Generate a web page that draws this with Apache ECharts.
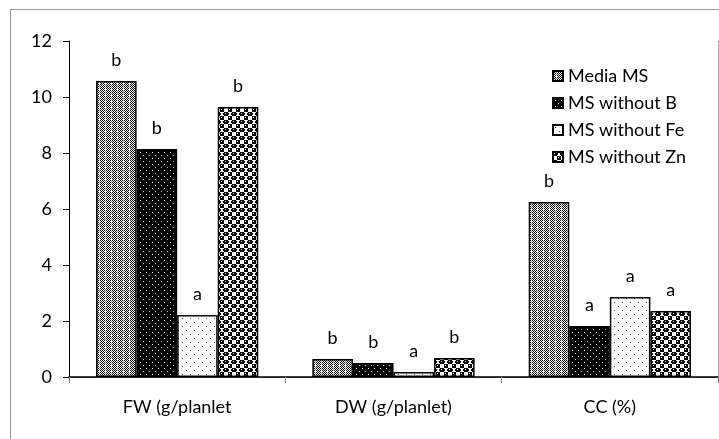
<!DOCTYPE html>
<html>
<head>
<meta charset="utf-8">
<script src="https://cdn.jsdelivr.net/npm/echarts@6/dist/echarts.min.js"></script>
<style>html,body{margin:0;padding:0;background:#fff}#c{width:719px;height:439px}</style>
</head>
<body>
<div id="c"></div>
<script>
const categories = ['FW (g/planlet', 'DW (g/planlet)', 'CC (%)'];
const seriesNames = ['Media MS', 'MS without B', 'MS without Fe', 'MS without Zn'];
const mediaMS = [10.57, 0.64, 6.25];
const msNoB = [8.14, 0.50, 1.82];
const msNoFe = [2.21, 0.18, 2.86];
const msNoZn = [9.64, 0.68, 2.36];
const lettersMedia = ['b', 'b', 'b'];
const lettersB = ['b', 'b', 'a'];
const lettersFe = ['a', 'a', 'a'];
const lettersZn = ['b', 'b', 'a'];
const yTicks = [0, 2, 4, 6, 8, 10, 12];

function mk(w, h, draw) {
  const c = document.createElement('canvas');
  c.width = w; c.height = h;
  const g = c.getContext('2d');
  draw(g);
  return c;
}
// Media MS: fine gray checker with white dotted stripes
const patMedia = mk(6, 6, g => {
  g.fillStyle = '#fff'; g.fillRect(0, 0, 6, 6);
  g.fillStyle = '#000';
  for (let y = 0; y < 6; y++) for (let x = 0; x < 6; x++) {
    if ((x + y) % 2 === 0 && x !== 3) g.fillRect(x, y, 1, 1);
  }
  g.fillStyle = '#888'; g.fillRect(3, 1, 1, 1); g.fillRect(3, 3, 1, 1);
});
// MS without B: black with white dots
const patB = mk(6, 6, g => {
  g.fillStyle = '#000'; g.fillRect(0, 0, 6, 6);
  g.fillStyle = '#fff'; g.fillRect(2, 2, 1, 1);
  g.fillStyle = '#ccc'; g.fillRect(5, 5, 1, 1);
});
// MS without Fe: white with black dots
const patFe = mk(8, 8, g => {
  g.fillStyle = '#fff'; g.fillRect(0, 0, 8, 8);
  g.fillStyle = '#000'; g.fillRect(2, 2, 1, 1);
  g.fillStyle = '#444'; g.fillRect(6, 6, 1, 1);
});
// MS without Zn: checker of black rounded cells with white highlights
const patZn = mk(8, 8, g => {
  g.fillStyle = '#fff'; g.fillRect(0, 0, 8, 8);
  g.fillStyle = '#000';
  g.fillRect(0, 0, 4, 4); g.fillRect(4, 4, 4, 4);
  g.fillRect(4, 1, 1, 2); g.fillRect(7, 1, 1, 2);
  g.fillStyle = '#fff';
  g.fillRect(1, 1, 1, 1); g.fillRect(5, 5, 1, 1);
  g.fillRect(0, 7, 1, 1); g.fillRect(3, 4, 1, 1);
});

const pats = [patMedia, patB, patFe, patZn];
const datas = [mediaMS, msNoB, msNoFe, msNoZn];
const letters = [lettersMedia, lettersB, lettersFe, lettersZn];
const font = 'Lato, "Open Sans", sans-serif';

const chart = echarts.init(document.getElementById('c'), null, {renderer: 'canvas'});
chart.setOption({
  animation: false,
  backgroundColor: '#fff',
  graphic: [{
    type: 'rect', left: 8, top: 7, shape: {x: 0, y: 0, width: 760, height: 480},
    style: {fill: 'none', stroke: '#999', lineWidth: 1}, z: -10, silent: true
  }],
  grid: {left: 69, right: 1, top: 41, bottom: 62, containLabel: false},
  legend: {
    orient: 'vertical', left: 552, top: 67, itemGap: 9, itemWidth: 10, itemHeight: 10,
    icon: 'rect', padding: 0,
    textStyle: {fontFamily: font, fontSize: 18, color: '#000'},
    data: seriesNames
  },
  xAxis: [{
    type: 'category', data: categories,
    axisLine: {lineStyle: {color: '#888', width: 1}},
    axisTick: {show: true, length: 6, lineStyle: {color: '#888'}},
    axisLabel: {fontFamily: font, fontSize: 18, color: '#000', margin: 21}
  }, {
    type: 'category', data: categories, position: 'top',
    axisLine: {lineStyle: {color: '#000', width: 1.5}},
    axisTick: {show: false}, axisLabel: {show: false}
  }],
  yAxis: [{
    type: 'value', min: 0, max: 12, interval: 2,
    axisLine: {show: true, lineStyle: {color: '#000', width: 1}},
    axisTick: {show: true, length: 6, lineStyle: {color: '#000'}},
    splitLine: {show: false},
    axisLabel: {fontFamily: font, fontSize: 18, color: '#000', margin: 17,
      formatter: v => yTicks.includes(v) ? String(v) : ''}
  }, {
    type: 'value', min: 0, max: 12, interval: 2, position: 'right',
    axisLine: {show: true, lineStyle: {color: '#aaa', width: 1}},
    axisTick: {show: false}, axisLabel: {show: false}, splitLine: {show: false}
  }],
  series: seriesNames.map((name, i) => ({
    name, type: 'bar', data: datas[i],
    barGap: '0%', barCategoryGap: '25%',
    itemStyle: {color: {image: pats[i], repeat: 'repeat'}, borderColor: '#000', borderWidth: 1.5},
    label: {
      show: true, position: 'top', distance: 12,
      fontFamily: font, fontSize: 18, color: '#000',
      formatter: p => letters[i][p.dataIndex]
    }
  }))
});
</script>
</body>
</html>
